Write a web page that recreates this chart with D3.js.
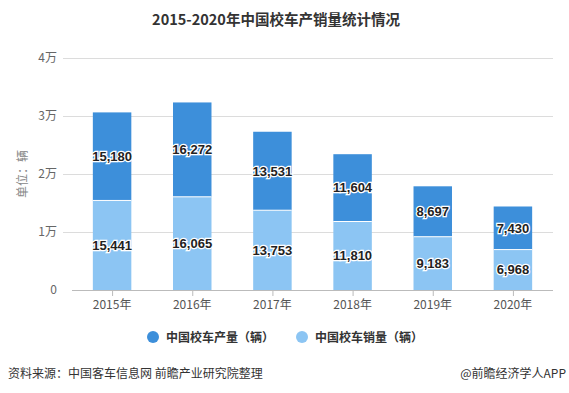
<!DOCTYPE html>
<html><head><meta charset="utf-8">
<script src="https://cdn.jsdelivr.net/npm/d3@7"></script>
<style>
html,body{margin:0;padding:0;background:#fff;}
svg{display:block;font-family:"Microsoft YaHei","Noto Sans CJK SC",sans-serif;}
</style></head>
<body><svg id="c" width="569" height="393"></svg>
<script>
const years = ["2015年","2016年","2017年","2018年","2019年","2020年"];
const production = [15180,16272,13531,11604,8697,7430];
const sales = [15441,16065,13753,11810,9183,6968];
const yTicks = [0,10000,20000,30000,40000];
const yTickLabels = ["0","1万","2万","3万","4万"];
const seriesNames = ["中国校车产量（辆）","中国校车销量（辆）"];
const colors = {prod:"#3d8fda", sales:"#8cc5f3"};

const svg = d3.select("#c");
const x = d3.scaleBand().domain(years).range([72,553]).paddingInner(0.52).paddingOuter(0.26);
const y = d3.scaleLinear().domain([0,40000]).range([290,58]);

svg.append("text").attr("x",276).attr("y",25).attr("text-anchor","middle")
  .attr("font-size",14.5).attr("font-weight","bold").attr("fill","#333")
  .text("2015-2020年中国校车产销量统计情况");

// grid
svg.append("g").selectAll("line").data(yTicks.slice(1)).join("line")
  .attr("x1",63).attr("x2",553).attr("y1",d=>Math.round(y(d))+0.5).attr("y2",d=>Math.round(y(d))+0.5)
  .attr("stroke","#dcdcdc");
svg.append("g").selectAll("text").data(yTicks).join("text")
  .attr("x",57).attr("y",d=>y(d)+4).attr("text-anchor","end")
  .attr("font-size",12).attr("fill","#666").text((d,i)=>yTickLabels[i]);

svg.append("text").attr("transform","translate(27,174) rotate(-90)").attr("text-anchor","middle")
  .attr("font-size",12).attr("fill","#888").text("单位：辆");

// bars
const data = years.map((yr,i)=>({yr, s:sales[i], p:production[i]}));
const g = svg.append("g");
g.selectAll("rect.s").data(data).join("rect").attr("class","s")
  .attr("x",d=>x(d.yr)).attr("width",x.bandwidth())
  .attr("y",d=>y(d.s)).attr("height",d=>y(0)-y(d.s)).attr("fill",colors.sales);
g.selectAll("rect.p").data(data).join("rect").attr("class","p")
  .attr("x",d=>x(d.yr)).attr("width",x.bandwidth())
  .attr("y",d=>y(d.s+d.p)).attr("height",d=>y(d.s)-y(d.s+d.p)).attr("fill",colors.prod);
g.selectAll("line.sep").data(data).join("line")
  .attr("x1",d=>x(d.yr)).attr("x2",d=>x(d.yr)+x.bandwidth())
  .attr("y1",d=>y(d.s)).attr("y2",d=>y(d.s)).attr("stroke","#fff").attr("stroke-width",1);

const fmt = d3.format(",");
function lbl(cls, yf, vf){
  g.selectAll("text."+cls).data(data).join("text").attr("class",cls)
    .attr("x",d=>x(d.yr)+x.bandwidth()/2).attr("y",yf).attr("dy","0.35em")
    .attr("text-anchor","middle").attr("font-size",13).attr("font-weight","bold")
    .attr("fill","#222").attr("stroke","#fff").attr("stroke-width",2.5)
    .attr("paint-order","stroke").attr("font-family","'Liberation Sans',Arial,sans-serif")
    .text(vf);
}
lbl("ls", d=>(y(0)+y(d.s))/2, d=>fmt(d.s));
lbl("lp", d=>(y(d.s)+y(d.s+d.p))/2, d=>fmt(d.p));

// x axis
svg.append("line").attr("x1",72).attr("x2",553).attr("y1",290.5).attr("y2",290.5).attr("stroke","#bbb");
svg.append("g").selectAll("line").data(years).join("line")
  .attr("x1",d=>x(d)+x.bandwidth()/2+0.5).attr("x2",d=>x(d)+x.bandwidth()/2+0.5)
  .attr("y1",290).attr("y2",296).attr("stroke","#bbb");
svg.append("g").selectAll("text").data(years).join("text")
  .attr("x",d=>x(d)+x.bandwidth()/2).attr("y",309).attr("text-anchor","middle")
  .attr("font-size",12).attr("fill","#555").text(d=>d);

// legend
const leg = [{n:seriesNames[0],c:colors.prod,x:153},{n:seriesNames[1],c:colors.sales,x:302}];
const lg = svg.append("g").selectAll("g").data(leg).join("g");
lg.append("circle").attr("cx",d=>d.x).attr("cy",337).attr("r",6).attr("fill",d=>d.c);
lg.append("text").attr("x",d=>d.x+13).attr("y",341.5).attr("font-size",12).attr("font-weight","bold")
  .attr("fill","#333").text(d=>d.n);

// source
svg.append("text").attr("x",8).attr("y",378).attr("font-size",12).attr("fill","#333")
  .text("资料来源：中国客车信息网 前瞻产业研究院整理");
svg.append("text").attr("x",566).attr("y",378).attr("text-anchor","end").attr("font-size",12).attr("fill","#333")
  .text("@前瞻经济学人APP");
</script></body></html>
